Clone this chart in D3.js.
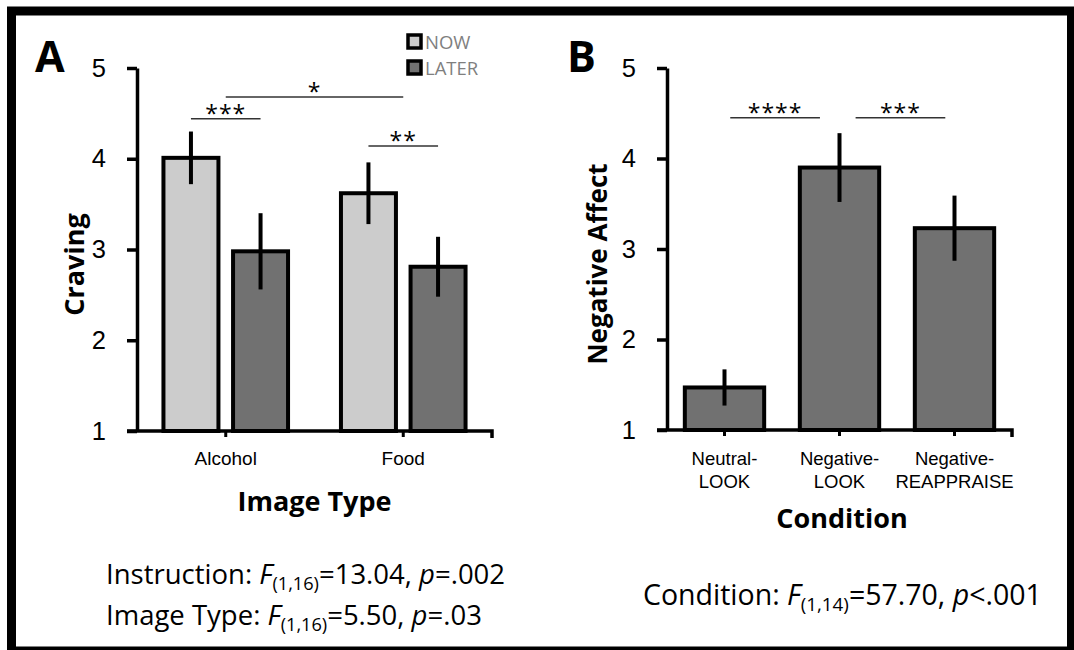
<!DOCTYPE html>
<html>
<head>
<meta charset="utf-8">
<script src="https://cdn.jsdelivr.net/npm/d3@7"></script>
<style>
  body { margin: 0; background: #fff; }
  svg { display: block; font-family: "Open Sans", Lato, sans-serif; }
</style>
</head>
<body>
<svg id="chart" width="1074" height="650"></svg>
<script>
// data
const imageTypes = ["Alcohol", "Food"];
const instructions = ["NOW", "LATER"];
const cravingNow = [4.01, 3.62];
const cravingNowErr = [0.29, 0.34];
const cravingLater = [2.98, 2.81];
const cravingLaterErr = [0.42, 0.33];

const conditions = ["Neutral-LOOK", "Negative-LOOK", "Negative-REAPPRAISE"];
const affect = [1.47, 3.90, 3.23];
const affectErr = [0.20, 0.38, 0.36];

const yTicks = [1, 2, 3, 4, 5];

// significance bars: [from, to, level, stars]
const sigA = [
  [["Alcohol", "NOW"], ["Alcohol", "LATER"], 4.44, "***"],
  [["Alcohol", null], ["Food", null], 4.68, "*"],
  [["Food", "NOW"], ["Food", "LATER"], 4.14, "**"]
];
const sigB = [
  [0.05, 0.83, 4.45, "****"],
  [1.14, 1.92, 4.45, "***"]
];

const fillColor = { NOW: "#cccccc", LATER: "#717171" };

const svg = d3.select("#chart");

// outer frame
svg.append("rect")
  .attr("x", 11.5).attr("y", 11)
  .attr("width", 1060).attr("height", 640)
  .attr("fill", "#fff").attr("stroke", "#000").attr("stroke-width", 9);

function styleY(g) {
  g.select(".domain").attr("stroke", "#000").attr("stroke-width", 3.5);
  g.selectAll(".tick line").attr("stroke", "#000").attr("stroke-width", 3.5);
  g.selectAll(".tick text").attr("fill", "#000").attr("font-size", 25.5);
}

function styleX(g, x0, x1) {
  g.select(".domain").attr("stroke", "#000").attr("stroke-width", 3.5)
    .attr("d", `M${x0},0H${x1}v7`);
  g.selectAll(".tick line").attr("stroke", "#000").attr("stroke-width", 3);
  g.selectAll(".tick text").attr("fill", "#000").attr("font-size", 19);
}

// ---------- Panel A ----------
const yA = d3.scaleLinear().domain([1, 5]).range([431, 68]);
const xA = d3.scaleBand().domain(imageTypes).range([137, 492]);
const xInner = d3.scaleBand().domain(instructions)
  .range([0, xA.bandwidth()]).paddingInner(0.21).paddingOuter(0.38);

const barsA = [];
imageTypes.forEach((t, i) => {
  barsA.push({ type: t, inst: "NOW", v: cravingNow[i], e: cravingNowErr[i] });
  barsA.push({ type: t, inst: "LATER", v: cravingLater[i], e: cravingLaterErr[i] });
});

svg.append("g").selectAll("rect")
  .data(barsA).enter().append("rect")
    .attr("x", d => xA(d.type) + xInner(d.inst))
    .attr("y", d => yA(d.v))
    .attr("width", xInner.bandwidth())
    .attr("height", d => yA(1) - yA(d.v))
    .attr("fill", d => fillColor[d.inst])
    .attr("stroke", "#000").attr("stroke-width", 4);

svg.append("g").selectAll("line")
  .data(barsA).enter().append("line")
    .attr("x1", d => xA(d.type) + xInner(d.inst) + xInner.bandwidth() / 2)
    .attr("x2", d => xA(d.type) + xInner(d.inst) + xInner.bandwidth() / 2)
    .attr("y1", d => yA(d.v + d.e))
    .attr("y2", d => yA(d.v - d.e))
    .attr("stroke", "#000").attr("stroke-width", 4);

svg.append("g")
  .attr("transform", `translate(0,${yA(1)})`)
  .call(d3.axisBottom(xA).tickSize(6).tickSizeOuter(0).tickPadding(15))
  .call(g => styleX(g, xA.range()[0] - 10, xA.range()[1]));

svg.append("g")
  .attr("transform", `translate(${xA.range()[0]},0)`)
  .call(d3.axisLeft(yA).tickValues(yTicks).tickSize(10).tickSizeOuter(0)
    .tickPadding(21).tickFormat(d3.format("d")))
  .call(styleY);

function posA(p) {
  return p[1] ? xA(p[0]) + xInner(p[1]) + xInner.bandwidth() / 2
              : xA(p[0]) + xA.bandwidth() / 2;
}
const sigGA = svg.append("g").selectAll("g").data(sigA).enter().append("g");
sigGA.append("line")
  .attr("x1", d => posA(d[0])).attr("x2", d => posA(d[1]))
  .attr("y1", d => yA(d[2])).attr("y2", d => yA(d[2]))
  .attr("stroke", "#333").attr("stroke-width", 1.5);
sigGA.append("text")
  .attr("x", d => (posA(d[0]) + posA(d[1])) / 2)
  .attr("y", d => yA(d[2]) + 3)
  .attr("text-anchor", "middle")
  .attr("font-size", 23).attr("letter-spacing", 1)
  .text(d => d[3]);

// legend
const legend = svg.append("g").selectAll("g")
  .data(instructions).enter().append("g")
    .attr("transform", (d, i) => `translate(408,${35 + i * 26})`);
legend.append("rect")
  .attr("width", 13).attr("height", 13)
  .attr("fill", d => fillColor[d])
  .attr("stroke", "#000").attr("stroke-width", 3.5);
legend.append("text")
  .attr("x", 17).attr("y", 13.5)
  .attr("font-size", 18.5).attr("fill", "#7f7f7f")
  .text(d => d);

svg.append("text").attr("x", 35).attr("y", 72)
  .attr("font-size", 43).attr("font-weight", 700).text("A");

svg.append("text")
  .attr("transform", `translate(84,${(yA(1) + yA(5)) / 2 + 15}) rotate(-90)`)
  .attr("text-anchor", "middle").attr("font-size", 27).attr("font-weight", 700)
  .text("Craving");

svg.append("text")
  .attr("x", (xA.range()[0] + xA.range()[1]) / 2).attr("y", 511)
  .attr("text-anchor", "middle").attr("font-size", 27).attr("font-weight", 700)
  .text("Image Type");

function statLine(x, y, size, parts) {
  const t = svg.append("text").attr("x", x).attr("y", y).attr("font-size", size);
  parts.forEach(p => {
    const s = t.append("tspan").text(p.t);
    if (p.i) s.attr("font-style", "italic");
    if (p.sub) s.attr("font-size", size * 0.66).attr("dy", 6);
    if (p.up) s.attr("dy", -6);
  });
}
statLine(106, 584, 27.5, [
  { t: "Instruction: " }, { t: "F", i: 1 }, { t: "(1,16)", sub: 1 },
  { t: "=13.04, ", up: 1 }, { t: "p", i: 1 }, { t: "=.002" }
]);
statLine(106, 625, 27.5, [
  { t: "Image Type: " }, { t: "F", i: 1 }, { t: "(1,16)", sub: 1 },
  { t: "=5.50, ", up: 1 }, { t: "p", i: 1 }, { t: "=.03" }
]);

// ---------- Panel B ----------
const yB = d3.scaleLinear().domain([1, 5]).range([430, 68]);
const xB = d3.scaleBand().domain(conditions).range([667, 1012])
  .paddingInner(0.31).paddingOuter(0.155);

svg.append("g").selectAll("rect")
  .data(conditions).enter().append("rect")
    .attr("x", d => xB(d))
    .attr("y", (d, i) => yB(affect[i]))
    .attr("width", xB.bandwidth())
    .attr("height", (d, i) => yB(1) - yB(affect[i]))
    .attr("fill", fillColor.LATER)
    .attr("stroke", "#000").attr("stroke-width", 4);

svg.append("g").selectAll("line")
  .data(conditions).enter().append("line")
    .attr("x1", d => xB(d) + xB.bandwidth() / 2)
    .attr("x2", d => xB(d) + xB.bandwidth() / 2)
    .attr("y1", (d, i) => yB(affect[i] + affectErr[i]))
    .attr("y2", (d, i) => yB(affect[i] - affectErr[i]))
    .attr("stroke", "#000").attr("stroke-width", 4);

const axB = svg.append("g")
  .attr("transform", `translate(0,${yB(1)})`)
  .call(d3.axisBottom(xB).tickSize(6).tickSizeOuter(0).tickPadding(16))
  .call(g => styleX(g, xB.range()[0] - 10, xB.range()[1]));
axB.selectAll(".tick text").attr("font-size", 18.5).each(function(d) {
  const parts = d.split("-");
  const t = d3.select(this).text(null);
  t.append("tspan").attr("x", 0).text(parts[0] + "-");
  t.append("tspan").attr("x", 0).attr("dy", 23).text(parts[1]);
});

svg.append("g")
  .attr("transform", `translate(${xB.range()[0]},0)`)
  .call(d3.axisLeft(yB).tickValues(yTicks).tickSize(10).tickSizeOuter(0)
    .tickPadding(21).tickFormat(d3.format("d")))
  .call(styleY);

const idxB = d3.scaleLinear().domain([0, 1])
  .range([xB(conditions[0]) + xB.bandwidth() / 2, xB(conditions[1]) + xB.bandwidth() / 2]);
const sigGB = svg.append("g").selectAll("g").data(sigB).enter().append("g");
sigGB.append("line")
  .attr("x1", d => idxB(d[0])).attr("x2", d => idxB(d[1]))
  .attr("y1", d => yB(d[2])).attr("y2", d => yB(d[2]))
  .attr("stroke", "#333").attr("stroke-width", 1.5);
sigGB.append("text")
  .attr("x", d => (idxB(d[0]) + idxB(d[1])) / 2)
  .attr("y", d => yB(d[2]) + 3)
  .attr("text-anchor", "middle")
  .attr("font-size", 23).attr("letter-spacing", 1)
  .text(d => d[3]);

svg.append("text").attr("x", 567).attr("y", 72)
  .attr("font-size", 43).attr("font-weight", 700).text("B");

svg.append("text")
  .attr("transform", `translate(607,${(yB(1) + yB(5)) / 2 + 15}) rotate(-90)`)
  .attr("text-anchor", "middle").attr("font-size", 26).attr("font-weight", 700)
  .text("Negative Affect");

svg.append("text")
  .attr("x", 842).attr("y", 528)
  .attr("text-anchor", "middle").attr("font-size", 27).attr("font-weight", 700)
  .text("Condition");

statLine(643, 605, 28.5, [
  { t: "Condition: " }, { t: "F", i: 1 }, { t: "(1,14)", sub: 1 },
  { t: "=57.70, ", up: 1 }, { t: "p", i: 1 }, { t: "<.001" }
]);
</script>
</body>
</html>
